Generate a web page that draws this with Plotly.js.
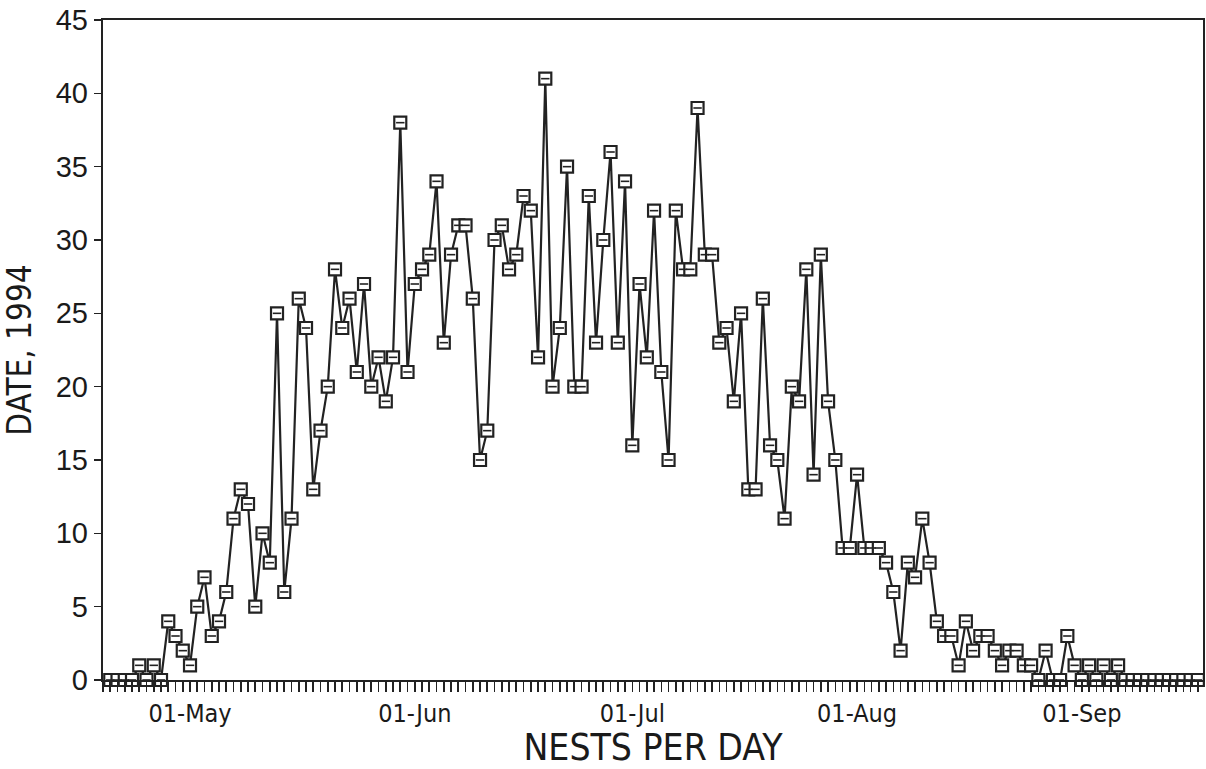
<!DOCTYPE html>
<html>
<head>
<meta charset="utf-8">
<script src="https://cdn.plot.ly/plotly-3.0.1.min.js"></script>
<style>
  html, body { margin: 0; padding: 0; background: #ffffff; }
  #chart { width: 1206px; height: 769px; }
</style>
</head>
<body>
<div id="chart"></div>
<script>
// Nests per day, 1994
const aprilFirstDay = 20;                       // April series starts on 20 April
const aprilNests  = [0,0,0,0,1,0,1,0,4,3,2];   // 20–30 Apr
const mayNests    = [1,5,7,3,4,6,11,13,12,5,10,8,25,6,11,26,24,13,17,20,28,24,26,21,27,20,22,19,22,38,21];
const juneNests   = [27,28,29,34,23,29,31,31,26,15,17,30,31,28,29,33,32,22,41,20,24,35,20,20,33,23,30,36,23,34];
const julyNests   = [16,27,22,32,21,15,32,28,28,39,29,29,23,24,19,25,13,13,26,16,15,11,20,19,28,14,29,19,15,9,9];
const augustNests = [14,9,9,9,8,6,2,8,7,11,8,4,3,3,1,4,2,3,3,2,1,2,2,1,1,0,2,0,0,3,1];
const septemberNests = [0,1,0,1,0,1,0,0,0,0,0,0,0,0,0,0,0]; // 1–17 Sep

const yTickValues = [0,5,10,15,20,25,30,35,40,45];
const xTitle = 'NESTS PER DAY';
const yTitle = 'DATE, 1994';

function pad(n){ return (n < 10 ? '0' : '') + n; }
function monthDates(month, firstDay, values){
  return values.map((v, i) => '1994-' + pad(month) + '-' + pad(firstDay + i));
}

const dates = [].concat(
  monthDates(4, aprilFirstDay, aprilNests),
  monthDates(5, 1, mayNests),
  monthDates(6, 1, juneNests),
  monthDates(7, 1, julyNests),
  monthDates(8, 1, augustNests),
  monthDates(9, 1, septemberNests)
);
const nests = [].concat(aprilNests, mayNests, juneNests, julyNests, augustNests, septemberNests);

const ink = '#222222';
const narrow = '"Liberation Sans Narrow", "DejaVu Sans Condensed", "Arial Narrow", sans-serif';
const wide = '"Liberation Sans", Arial, sans-serif';

const traces = [
  {
    x: dates, y: nests, type: 'scatter', mode: 'lines+markers',
    cliponaxis: false,
    line: { color: ink, width: 2.2 },
    marker: { symbol: 'square', size: 12, color: '#ffffff', line: { color: ink, width: 2.2 } },
    hoverinfo: 'x+y', showlegend: false
  },
  {
    x: dates, y: nests, type: 'scatter', mode: 'markers',
    cliponaxis: false,
    marker: { symbol: 'line-ew', size: 6, color: ink, line: { color: ink, width: 1.6 } },
    hoverinfo: 'skip', showlegend: false
  }
];

const layout = {
  width: 1206, height: 769,
  margin: { l: 103, r: 3, t: 20, b: 89 },
  paper_bgcolor: '#ffffff', plot_bgcolor: '#ffffff',
  showlegend: false,
  xaxis: {
    type: 'date',
    range: ['1994-04-19', '1994-09-17 17:00'],
    tick0: '1994-05-01', dtick: 'M1', tickformat: '%d-%b',
    ticks: 'outside', ticklen: 10, tickwidth: 1.6, tickcolor: ink,
    minor: { dtick: 86400000, tick0: '1994-04-19', ticks: 'outside', ticklen: 10, tickwidth: 1.6, tickcolor: ink, showgrid: false },
    showline: true, linecolor: ink, linewidth: 2.2, mirror: true,
    showgrid: false, zeroline: false,
    tickfont: { family: narrow, size: 25, color: '#1a1a1a' },
    title: { text: xTitle, font: { family: narrow, size: 37, color: '#1a1a1a' }, standoff: 8 }
  },
  yaxis: {
    range: [0, 45], tickvals: yTickValues,
    ticks: 'outside', ticklen: 7, tickwidth: 1.6, tickcolor: ink,
    showline: true, linecolor: ink, linewidth: 2.2, mirror: true,
    showgrid: false, zeroline: false,
    tickfont: { family: wide, size: 29, color: '#1a1a1a' },
    ticklabelstandoff: 0,
    title: { text: yTitle, font: { family: narrow, size: 33, color: '#1a1a1a' }, standoff: 16 }
  }
};

Plotly.newPlot('chart', traces, layout, { displayModeBar: false, staticPlot: true });
</script>
</body>
</html>
